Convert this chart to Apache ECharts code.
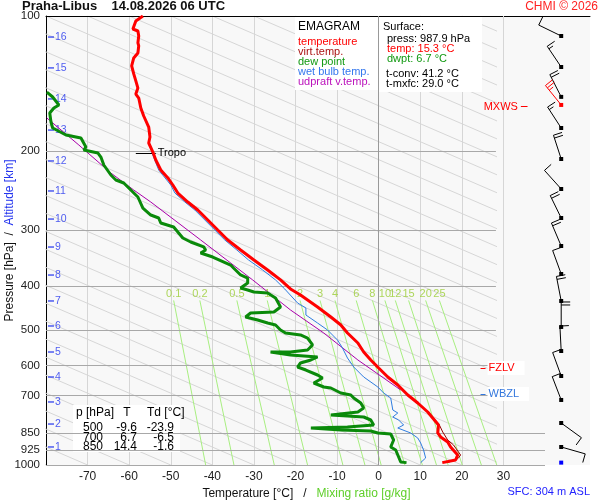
<!DOCTYPE html>
<html>
<head>
<meta charset="utf-8">
<title>Emagram</title>
<script src="https://cdn.jsdelivr.net/npm/echarts@6.0.0/dist/echarts.min.js"></script>
<style>html,body{margin:0;padding:0;background:#fff}</style>
</head>
<body>
<div id="main" style="width:600px;height:500px;"></div>
<script>
// sounding values (p in hPa, T in degC)
var tempP = [100, 102.6, 106.9, 108.0, 110.8, 114.8, 116.6, 120.9, 124.0, 129.2, 134.6, 139.5, 144.7, 149.2, 152.3, 160.3, 167.0, 176.7, 186.0, 191.8, 200.9, 209.3, 220.3, 229.5, 237.9, 247.9, 259.6, 270.5, 284.7, 299.7, 315.4, 332.0, 349.4, 367.8, 387.1, 405.4, 418.1, 444.7, 468.1, 487.7, 508.2, 534.9, 560.2, 583.6, 608.1, 636.8, 663.5, 698.4, 727.6, 762.0, 785.8, 814.5, 848.6, 866.2, 888.7, 911.7, 950.0, 974.7, 987.9];
var tempT = [-56.7, -58.4, -59.1, -57.9, -57.7, -57.9, -57.7, -57.9, -58.9, -59.4, -58.9, -58.4, -57.9, -58.4, -57.7, -57.2, -56.5, -55.3, -55.0, -55.3, -54.3, -53.6, -52.4, -50.7, -49.5, -48.3, -45.9, -43.5, -41.1, -38.7, -36.3, -33.2, -30.0, -26.7, -23.6, -21.2, -18.8, -14.7, -11.5, -9.1, -7.5, -5.0, -3.6, -1.9, 0, 2.2, 4.6, 7.0, 9.4, 11.8, 13.0, 14.4, 14.2, 14.9, 16.6, 17.3, 19.0, 18.5, 15.3];

var virtP = [762.0, 785.8, 814.5, 844.2, 879.6, 902.4, 950.0, 964.7, 974.7, 987.9];
var virtT = [12.0, 13.2, 14.6, 15.4, 16.6, 18.0, 19.7, 19.2, 18.5, 16.4];

var dewP = [147.7, 151.5, 157.8, 160.3, 164.5, 172.2, 177.6, 184.1, 187.0, 195.8, 198.8, 201.9, 206.1, 214.7, 226.0, 231.9, 235.5, 244.1, 253.0, 267.7, 277.5, 281.8, 289.1, 295.1, 302.7, 312.2, 318.7, 326.9, 332.0, 337.2, 344.2, 358.6, 364.1, 377.4, 383.3, 393.2, 403.5, 407.6, 411.8, 413.9, 424.7, 444.7, 456.3, 458.6, 468.1, 475.4, 482.8, 487.7, 500.4, 508.2, 513.4, 521.4, 540.4, 554.5, 560.2, 560.2, 568.9, 574.7, 583.6, 592.7, 605.0, 614.4, 630.3, 640.1, 656.7, 670.3, 673.8, 691.3, 698.4, 709.2, 727.6, 746.5, 762.0, 773.8, 777.8, 781.8, 793.9, 814.5, 822.9, 827.2, 835.7, 840.0, 848.6, 853.0, 879.7, 911.7, 926.0, 959.8, 984.7, 987.9];
var dewT = [-79.8, -78.4, -76.9, -78.1, -79.1, -78.8, -78.4, -75.2, -71.6, -70.4, -70.9, -67.5, -66.8, -66.1, -64.4, -63.2, -61.3, -59.6, -57.9, -56.7, -54.8, -52.9, -52.4, -49.3, -48.3, -47.1, -45.2, -42.1, -41.6, -42.8, -39.9, -35.6, -34.9, -33.2, -31.5, -31.5, -33.2, -31.5, -30.0, -26.7, -24.8, -23.6, -25.2, -30.8, -32.0, -29.1, -26.7, -24.8, -23.6, -22.4, -18.8, -17.1, -15.9, -17.1, -21.2, -26.0, -21.2, -14.7, -16.3, -18.8, -19.5, -17.5, -14.7, -13.5, -15.6, -13.2, -11.5, -9.1, -6.7, -6.0, -4.3, -3.6, -5.0, -11.5, -7.5, -3.6, -1.9, -1.2, -7.5, -16.3, -9.1, -1.9, -0.2, 2.9, 3.6, 2.9, 4.1, 4.8, 5.3, 6.7];

var wetP = [200.9, 220.3, 237.9, 247.9, 259.6, 270.5, 284.7, 299.7, 315.4, 332.0, 349.4, 367.8, 387.1, 405.4, 435.7, 447.0, 463.4, 482.8, 500.4, 526.8, 548.8, 577.7, 605.0, 636.8, 670.3, 691.3, 709.2, 754.2, 765.9, 781.8, 793.9, 814.5, 827.2, 848.6, 870.7, 893.3, 926.0, 964.7, 987.9];
var wetT = [-54.6, -52.9, -50.0, -49.0, -46.6, -44.2, -41.8, -39.4, -37.0, -34.1, -31.3, -27.9, -24.8, -22.6, -19.5, -17.5, -17.5, -14.7, -12.3, -9.9, -8.7, -7.5, -6.0, -3.6, -0.2, 1.2, 2.9, 3.4, 4.6, 3.4, 4.8, 6.0, 4.6, 7.7, 9.4, 10.1, 10.8, 11.3, 10.1];

var updP = [168.7, 193.8, 223.7, 244.1, 259.6, 315.4, 387.1, 451.6, 508.2, 583.6, 680.7];
var updT = [-79.8, -72.1, -64.4, -58.9, -54.8, -42.8, -30.3, -21.2, -13.2, -5.0, 5.3];

// wind profile (direction deg, speed kt)
var windP = [110.8, 129.9, 151.4, 157.8, 177.6, 208.2, 242.8, 281.8, 325.3, 375.5, 431.2, 492.7, 557.4, 633.6, 716.4, 806.3, 911.7, 987.9];
var windDir = [296, 326, 333, 321, 327, 342, 318, 334, 337, 340, 349, 360, 357, 340, 339, 126, 106, 0];
var windSpd = [10, 15, 20, 25, 15, 20, 10, 20, 20, 10, 20, 20, 10, 10, 10, 10, 10, 0];
var windColor = ['#000', '#000', '#000', '#ff0000', '#000', '#000', '#000', '#000', '#000', '#000', '#000', '#000', '#000', '#000', '#000', '#000', '#000', '#0000ff'];

// axes, ticks and reference lines
var pressLevels = [100, 200, 300, 400, 500, 600, 700, 850, 925, 1000];
var isotherms = [-70, -60, -50, -40, -30, -20, -10, 10, 20, 30];
var kmLabels = ['1', '2', '3', '4', '5', '6', '7', '8', '9', '10', '11', '12', '13', '14', '15', '16'];
var kmP = [911.7, 810.5, 723.8, 636.9, 560.2, 490.2, 431.2, 377.5, 327.0, 283.3, 245.3, 210.3, 179.5, 153.0, 130.5, 111.4];
var mixLabels = ['0.1', '0.2', '0.5', '1', '2', '3', '4', '6', '8', '10', '12', '15', '20', '25'];
var mixTopT = [-49.3, -43.0, -34.1, -26.8, -18.9, -14.1, -10.5, -5.4, -1.5, 1.5, 4.0, 7.2, 11.3, 14.6];
var mixBotT = [-41.6, -34.8, -25.1, -17.1, -8.6, -3.3, 0.6, 6.3, 10.5, 13.9, 16.7, 20.1, 24.7, 28.4];
var mixTopP = 430;
var adiabatBase = [-80, -70, -60, -50, -40, -30, -20, -10, 0, 10, 20, 30, 40, 50, 60, 70, 80, 90, 100, 110, 120, 130, 140, 150, 160, 170, 180, 190, 200, 210, 220, 230, 240, 250, 260, 270];

var tropoP = 201.9, fzlvP = 608.1, wbzlP = 694.8, mxwsP = 159.2;

var tableP = ['500', '700', '850'];
var tableT = ['-9.6', '6.7', '14.4'];
var tableTd = ['-23.9', '-6.5', '-1.6'];

function pairs(ps, ts) {
    return ps.map(function (p, i) { return [ts[i], p]; });
}

var FONT = '"Liberation Sans", Arial, sans-serif';
var chart = echarts.init(document.getElementById('main'));

// wind barbs: dot at the level, shaft towards where the wind comes from
function renderBarb(params, api) {
    var pt = api.coord([api.value(0), api.value(1)]);
    var col = windColor[params.dataIndex];
    var kids = [{ type: 'rect', shape: { x: pt[0] - 2, y: pt[1] - 2, width: 4, height: 4 }, style: { fill: col } }];
    var spd = api.value(3);
    if (spd > 0) {
        var a = api.value(2) * Math.PI / 180;
        var dx = Math.sin(a), dy = -Math.cos(a);
        var bx = -dy, by = dx;
        var L = 25;
        var ex = pt[0] + dx * L, ey = pt[1] + dy * L;
        kids.push({ type: 'line', shape: { x1: pt[0], y1: pt[1], x2: ex, y2: ey }, style: { stroke: col, lineWidth: 1 } });
        var left = spd, k = 0;
        while (left >= 5) {
            var len = left >= 10 ? 9 : 5;
            var sx = ex - dx * k * 3, sy = ey - dy * k * 3;
            kids.push({ type: 'line', shape: { x1: sx, y1: sy, x2: sx + bx * len, y2: sy + by * len }, style: { stroke: col, lineWidth: 1 } });
            left -= left >= 10 ? 10 : 5;
            k++;
        }
    }
    return { type: 'group', children: kids };
}

var pressLines = pressLevels.map(function (p) {
    var item = { name: String(p), coords: [[-80, p], [p >= 850 ? 40 : 28.2, p]] };
    if (p === 100) item.lineStyle = { color: '#000' };
    return item;
});
pressLines.push({ name: '', coords: [[0, 100], [0, 1000]], lineStyle: { color: '#999' }, label: { show: false } });

function txt(x, y, s, color, size, align) {
    return { type: 'text', x: x, y: y, z: 8,
        style: { text: s, fill: color, font: (size || 11) + 'px ' + FONT, verticalAlign: 'middle', align: align || 'left' } };
}

var graphics = [
    { type: 'rect', shape: { x: 295, y: 17, width: 83, height: 73 }, style: { fill: '#fff' }, z: 2 },
    { type: 'rect', shape: { x: 379, y: 17, width: 103, height: 75 }, style: { fill: '#fff' }, z: 2 },
    { type: 'rect', shape: { x: 73, y: 405, width: 107, height: 47 }, style: { fill: '#fff' }, z: 2 },
    txt(298, 27, 'EMAGRAM', '#000', 12),
    txt(298, 42, 'temperature', '#ff0000'),
    txt(298, 52, 'virt.temp.', '#aa1111'),
    txt(298, 62, 'dew point', '#119911'),
    txt(298, 72, 'wet bulb temp.', '#3377ee'),
    txt(298, 82, 'udpraft v.temp.', '#bb11bb'),
    txt(383, 27, 'Surface:', '#000'),
    txt(387, 39, 'press: 987.9 hPa', '#000'),
    txt(387, 49, 'temp: 15.3 °C', '#ff0000'),
    txt(387, 59, 'dwpt: 6.7 °C', '#119911'),
    txt(386, 74, 't-conv: 41.2 °C', '#000'),
    txt(386, 84, 't-mxfc: 29.0 °C', '#000'),
    txt(76, 413, 'p [hPa]', '#000', 12),
    txt(127, 413, 'T', '#000', 12, 'center'),
    txt(147, 413, 'Td [°C]', '#000', 12)
];
tableP.forEach(function (p, i) {
    var y = 428 + i * 9.5;
    graphics.push(txt(93, y, p, '#000', 12, 'center'));
    graphics.push(txt(137, y, tableT[i], '#000', 12, 'right'));
    graphics.push(txt(174, y, tableTd[i], '#000', 12, 'right'));
});

var hidden = { show: false };

chart.setOption({
    animation: false,
    textStyle: { fontFamily: FONT },
    title: [
        { text: 'Praha-Libus    14.08.2026 06 UTC', left: 22, top: 0, padding: 0,
          textStyle: { fontSize: 13, fontWeight: 'bold', color: '#111', fontFamily: FONT } },
        { text: 'CHMI © 2026', right: 2, top: 1, padding: 0,
          textStyle: { fontSize: 12, fontWeight: 'normal', color: '#ff2222', fontFamily: FONT } },
        { text: 'SFC: 304 m ASL', right: 10, bottom: 3, padding: 0,
          textStyle: { fontSize: 11, fontWeight: 'normal', color: '#2222ff', fontFamily: FONT } }
    ],
    grid: [
        { left: 46, top: 16, width: 499, height: 449, show: true, backgroundColor: '#f8f8f8', borderWidth: 0, outerBoundsMode: 'none', containLabel: false },
        { left: 545, top: 16, width: 45, height: 449, show: true, backgroundColor: '#f8f8f8', borderWidth: 0, outerBoundsMode: 'none', containLabel: false },
        { left: 46, top: 16, width: 450, height: 449, outerBoundsMode: 'none', containLabel: false }
    ],
    xAxis: [
        { gridIndex: 0, type: 'value', min: -80, max: 40, interval: 10,
          axisLine: hidden, axisTick: hidden, splitLine: hidden,
          axisLabel: { showMinLabel: false, showMaxLabel: false, fontSize: 12, color: '#222', margin: 6 },
          name: '{a|Temperature [°C]}   /   {b|Mixing ratio [g/kg]}', nameLocation: 'middle', nameGap: 21,
          nameTextStyle: { fontSize: 12, color: '#111', padding: [0, 0, 0, 22],
              rich: { a: { fontSize: 12, color: '#111' }, b: { fontSize: 12, color: '#5fcf2a' } } } },
        { gridIndex: 0, type: 'value', position: 'top', min: -80, max: 40,
          axisLine: { show: true, onZero: false, lineStyle: { color: '#000' } },
          axisTick: hidden, axisLabel: hidden, splitLine: hidden },
        { gridIndex: 1, type: 'value', min: 0, max: 1, show: false },
        { gridIndex: 1, type: 'value', position: 'top', min: 0, max: 1,
          axisLine: { show: true, onZero: false, lineStyle: { color: '#000' } },
          axisTick: hidden, axisLabel: hidden, splitLine: hidden },
        { gridIndex: 2, type: 'value', min: -80, max: 28.2, show: false }
    ],
    yAxis: [
        { gridIndex: 0, type: 'log', logBase: 10, min: 100, max: 1000, inverse: true,
          axisLine: { show: true, onZero: false, lineStyle: { color: '#000' } },
          axisTick: hidden, axisLabel: hidden, splitLine: hidden,
          name: '{a|Pressure [hPa]}  /  {b|Altitude [km]}', nameLocation: 'middle', nameRotate: 90, nameGap: 30,
          nameTextStyle: { fontSize: 12, color: '#111',
              rich: { a: { fontSize: 12, color: '#111' }, b: { fontSize: 12, color: '#2233ee' } } } },
        { gridIndex: 1, type: 'log', min: 100, max: 1000, inverse: true, show: false },
        { gridIndex: 2, type: 'log', min: 100, max: 1000, inverse: true, show: false }
    ],
    graphic: { elements: graphics },
    series: [
        { // dry adiabats
          type: 'lines', coordinateSystem: 'cartesian2d', xAxisIndex: 4, yAxisIndex: 2, silent: true, z: 1,
          lineStyle: { color: '#d6d6d6', width: 1, opacity: 1 },
          data: adiabatBase.map(function (t) { return { coords: [[t, 1000], [t - 250, 100]] }; }) },
        { // isotherms
          type: 'lines', coordinateSystem: 'cartesian2d', xAxisIndex: 0, yAxisIndex: 0, silent: true, z: 1,
          lineStyle: { color: '#d6d6d6', width: 1, opacity: 1 },
          data: isotherms.map(function (t) { return { coords: [[t, 100], [t, 1000]] }; }) },
        { // mixing ratio lines
          type: 'lines', coordinateSystem: 'cartesian2d', xAxisIndex: 0, yAxisIndex: 0, silent: true, z: 1,
          lineStyle: { color: '#a8ee80', width: 1, opacity: 1 },
          data: mixLabels.map(function (m, i) { return { coords: [[mixTopT[i], mixTopP], [mixBotT[i], 1000]] }; }) },
        { // mixing ratio labels
          type: 'scatter', xAxisIndex: 0, yAxisIndex: 0, silent: true, z: 2, symbolSize: 0,
          label: { show: true, position: 'top', distance: 1, fontSize: 11, color: '#9acd32',
                   formatter: function (p) { return mixLabels[p.dataIndex]; } },
          data: mixLabels.map(function (m, i) { return [mixTopT[i], mixTopP]; }) },
        { // isobars, 0 degC line and pressure labels
          type: 'lines', coordinateSystem: 'cartesian2d', xAxisIndex: 0, yAxisIndex: 0, silent: true, z: 3, clip: false,
          lineStyle: { color: '#a8a8a8', width: 1, opacity: 1 },
          label: { show: true, position: 'start', distance: 6, formatter: '{b}', fontSize: 11.5, color: '#222' },
          data: pressLines },
        { // special levels
          type: 'lines', coordinateSystem: 'cartesian2d', xAxisIndex: 0, yAxisIndex: 0, silent: true, z: 6, clip: false,
          lineStyle: { width: 1, opacity: 1 },
          label: { show: true, position: 'end', distance: 2, formatter: '{b}', fontSize: 11 },
          data: [
              { name: 'Tropo', coords: [[-58.4, tropoP], [-53.6, tropoP]], lineStyle: { color: '#000' }, label: { color: '#000' } },
              { name: 'FZLV', coords: [[24.5, fzlvP], [25.7, fzlvP]], lineStyle: { color: '#ff0000' },
                label: { color: '#ff0000', backgroundColor: '#fff', padding: [2, 10, 1, 1] } },
              { name: 'WBZL', coords: [[24.5, wbzlP], [25.7, wbzlP]], lineStyle: { color: '#3377dd' },
                label: { color: '#3377dd', backgroundColor: '#fff', padding: [2, 10, 1, 1] } },
              { name: 'MXWS', coords: [[34.2, mxwsP], [35.8, mxwsP]], lineStyle: { color: '#ff0000' },
                label: { color: '#ff0000', position: 'start', distance: 3 } }
          ] },
        { // altitude ticks
          type: 'scatter', xAxisIndex: 0, yAxisIndex: 0, silent: true, z: 4,
          symbol: 'rect', symbolSize: [6, 1.5], itemStyle: { color: '#2233ee' },
          label: { show: true, position: 'right', distance: 1, fontSize: 10.5, color: '#2233ee',
                   formatter: function (p) { return kmLabels[p.dataIndex]; } },
          data: kmP.map(function (p) { return [-78.8, p]; }) },
        { name: 'udpraft v.temp.', type: 'line', xAxisIndex: 0, yAxisIndex: 0, z: 5, showSymbol: false, silent: true,
          lineStyle: { color: '#aa00aa', width: 1 }, data: pairs(updP, updT) },
        { name: 'wet bulb temp.', type: 'line', xAxisIndex: 0, yAxisIndex: 0, z: 5, showSymbol: false, silent: true,
          lineStyle: { color: '#2f7de0', width: 1 }, data: pairs(wetP, wetT) },
        { name: 'virt.temp.', type: 'line', xAxisIndex: 0, yAxisIndex: 0, z: 5, showSymbol: false, silent: true,
          lineStyle: { color: '#990000', width: 1 }, data: pairs(virtP, virtT) },
        { name: 'temperature', type: 'line', xAxisIndex: 0, yAxisIndex: 0, z: 6, showSymbol: false, silent: true,
          lineStyle: { color: '#ff0000', width: 3 }, data: pairs(tempP, tempT) },
        { name: 'dew point', type: 'line', xAxisIndex: 0, yAxisIndex: 0, z: 6, showSymbol: false, silent: true,
          lineStyle: { color: '#0a8a0a', width: 3 }, data: pairs(dewP, dewT) },
        { name: 'wind', type: 'custom', xAxisIndex: 2, yAxisIndex: 1, z: 6, silent: true,
          renderItem: renderBarb,
          data: windP.map(function (p, i) { return [0.36, p, windDir[i], windSpd[i]]; }) }
    ]
});
</script>
</body>
</html>
